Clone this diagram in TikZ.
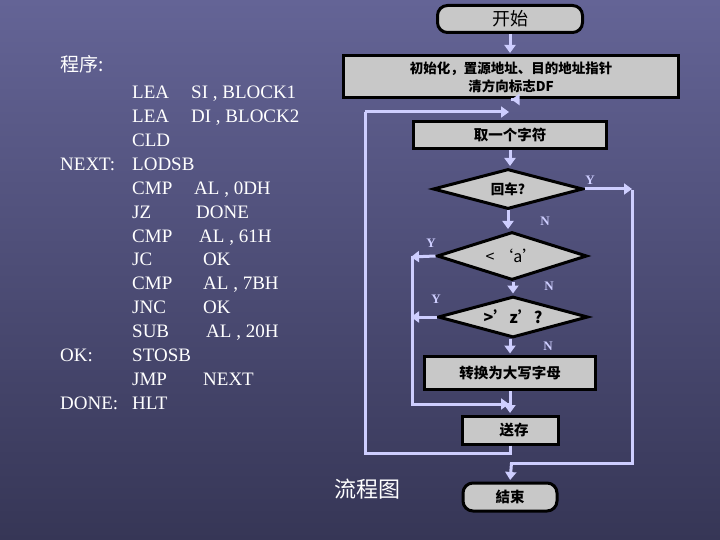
\documentclass[tikz,border=0pt]{standalone}
\usepackage{fontspec}
\setmainfont{Liberation Serif}
\newfontfamily\cjk{Noto Sans CJK SC}
\usetikzlibrary{arrows.meta,shapes.geometric}
\definecolor{bgtop}{RGB}{100,100,150}
\definecolor{bgbot}{RGB}{54,54,86}
\definecolor{flow}{RGB}{206,206,255}
\definecolor{boxfill}{RGB}{200,200,200}
\begin{document}
\begin{tikzpicture}[x=1pt,y=-1pt,
  box/.style={draw=black, line width=3pt, fill=boxfill, inner sep=0pt, text=black,
    font=\cjk\bfseries\fontsize{14.5}{17}\selectfont},
  roundbox/.style={box, rounded corners=10pt},
  decision/.style={box, diamond, inner sep=0pt},
  flowline/.style={draw=flow, line width=3pt},
  flowarrow/.style={flowline, -{Triangle[length=8pt,width=11pt]}},
  yn/.style={text=flow, font=\bfseries\fontsize{13}{13}\selectfont, inner sep=0pt},
  code/.style={text=white, anchor=base west, inner sep=0pt, font=\fontsize{19}{19}\selectfont}
]
\shade[top color=bgtop, bottom color=bgbot] (0,0) rectangle (720,540);
\useasboundingbox (0,0) rectangle (720,540);

% ---- program text ----
\node[code, font=\cjk\fontsize{19}{19}\selectfont] (title) at (60,72) {程序:};
\foreach \i/\lab/\op/\arg/\ax in {
  0//LEA/{SI , BLOCK1}/191,
  1//LEA/{DI , BLOCK2}/191,
  2//CLD//191,
  3/NEXT:/LODSB//191,
  4//CMP/{AL , 0DH}/194,
  5//JZ/DONE/196,
  6//CMP/{AL , 61H}/199,
  7//JC/OK/203,
  8//CMP/{AL , 7BH}/203,
  9//JNC/OK/203,
  10//SUB/{AL , 20H}/206,
  11/OK:/STOSB//203,
  12//JMP/NEXT/203,
  13/DONE:/HLT//203}{
  \node[code] (lab\i) at (60,99+\i*23.85) {\lab};
  \node[code] (op\i) at (132,99+\i*23.85) {\op};
  \node[code] (arg\i) at (\ax,99+\i*23.85) {\arg};
}
\node[text=white, inner sep=0pt, font=\cjk\fontsize{22}{22}\selectfont] (flowtitle) at (367,489) {流程图};

% ---- flowchart nodes ----
\node[roundbox, minimum width=145pt, minimum height=27pt,
      font=\cjk\fontsize{18}{18}\selectfont] (start) at (510,19) {开始};
\node[box, minimum width=335pt, minimum height=42pt, align=center,
      font=\cjk\bfseries\fontsize{13.5}{18}\selectfont] (init) at (511,77)
      {初始化，置源地址、目的地址指针\\清方向标志DF};
\node[box, minimum width=193pt, minimum height=27pt] (fetch) at (510,135) {取一个字符};
\node[decision, minimum width=150pt, minimum height=40pt, shape aspect=3.75,
      font=\cjk\bfseries\fontsize{13.5}{15}\selectfont] (cr) at (508,189) {回车?};
\node[decision, minimum width=150pt, minimum height=48pt, shape aspect=3.1,
      font=\cjk\fontsize{16}{16}\selectfont] (lta) at (512,256) {<\,‘a’};
\node[decision, minimum width=150pt, minimum height=41pt, shape aspect=3.6,
      font=\cjk\bfseries\fontsize{16}{16}\selectfont] (gtz) at (513,317) {>’z’?};
\node[box, minimum width=171pt, minimum height=33pt] (conv) at (510,373) {转换为大写字母};
\node[box, minimum width=96pt, minimum height=28pt] (store) at (510,430) {\hspace*{8pt}送存};
\node[roundbox, minimum width=94pt, minimum height=28pt] (stop) at (510,497) {結束};

% ---- straight flow ----
\draw[flowarrow, shorten >=1.5pt] (start.south) -- (start.south |- init.north);
\draw[flowarrow, shorten >=1.5pt] (init.south) -- (init.south -| fetch.north);
\draw[flowarrow, shorten >=1.5pt] (fetch.south) -- (fetch.south |- cr.north);
\draw[flowarrow, shorten >=1.5pt] (cr.south) -- (cr.south |- lta.north);
\draw[flowarrow, shorten >=1.5pt] (lta.south -| gtz.north) -- (gtz.north);
\draw[flowarrow, shorten >=1.5pt] (gtz.south -| conv.north) -- (conv.north);
\draw[flowarrow, shorten >=1.5pt] (conv.south) -- (store.north);

% ---- loop back to fetch ----
\coordinate (loopA) at (365,453);
\coordinate (loopB) at (365,112);
\coordinate (loopC) at (509,112);
\draw[flowline] (store.south) |- (loopA) -- (loopB);
\draw[flowarrow] (loopB) -- (loopC);

% ---- Y of carriage return ----
\coordinate (crR) at (632,189);
\coordinate (crD) at (632,463);
\coordinate (endT) at (510,463);
\draw[flowarrow] (cr.east) -- (crR);
\draw[flowline] ([yshift=-1.5pt]crR) -- (crD) -- (endT);
\draw[flowarrow, shorten >=1.5pt] ([xshift=1.5pt]endT) -- (stop.north);

% ---- Y of range checks ----
\coordinate (ltaL) at (411,257);
\coordinate (gtzL) at (411,317);
\coordinate (okD) at (412,404);
\coordinate (okR) at (509,404);
\draw[flowarrow] (lta.west) -- (ltaL);
\draw[flowarrow] (gtz.west) -- (gtzL);
\draw[flowline] (412,255.5) -- (okD) -- (okR);
\draw[flowarrow] (okD) -- (okR);

% ---- labels ----
\node[yn] (y1) at (590,180) {Y};
\node[yn] (n1) at (545,221) {N};
\node[yn] (y2) at (431,243) {Y};
\node[yn] (n2) at (549,286) {N};
\node[yn] (y3) at (436,299) {Y};
\node[yn] (n3) at (548,346) {N};
\end{tikzpicture}
\end{document}
